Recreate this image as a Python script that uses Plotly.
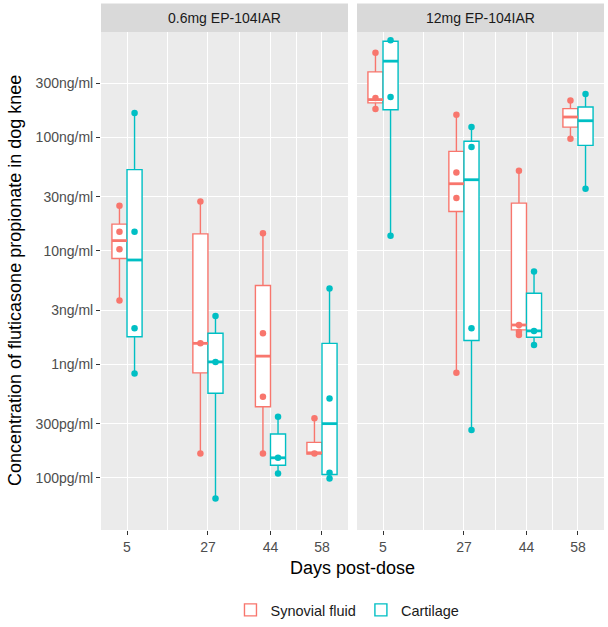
import plotly.graph_objects as go

# ---------------- data (ng/ml) ----------------
days = [5, 27, 44, 58]
day_labels = ["5", "27", "44", "58"]
panel_titles = ["0.6mg EP-104IAR", "12mg EP-104IAR"]
tissues = ["Synovial fluid", "Cartilage"]

# 0.6 mg, synovial fluid
syn06_lo = [3.65, 0.164, 0.164, 0.162]
syn06_q1 = [8.55, 0.84, 0.423, 0.162]
syn06_med = [12.3, 1.53, 1.18, 0.166]
syn06_q3 = [17.2, 14.1, 4.94, 0.205]
syn06_hi = [25.0, 27.2, 14.3, 0.334]
syn06_pts = [[25.0, 14.7, 10.3, 3.65], [27.2, 1.53, 0.164], [14.3, 1.88, 0.519, 0.164], [0.334, 0.164]]

# 0.6 mg, cartilage
car06_lo = [0.83, 0.0657, 0.109, 0.0986]
car06_q1 = [1.75, 0.555, 0.129, 0.107]
car06_med = [8.3, 1.05, 0.150, 0.30]
car06_q3 = [51.9, 1.88, 0.243, 1.53]
car06_hi = [164.0, 2.67, 0.345, 4.65]
car06_pts = [[164.0, 14.7, 2.08, 0.83], [2.67, 1.05, 0.0657], [0.345, 0.150, 0.109], [4.65, 0.50, 0.111, 0.0986]]

# 12 mg, synovial fluid
syn12_lo = [178.0, 0.844, 1.81, 97.3]
syn12_q1 = [201.0, 22.2, 2.01, 123.0]
syn12_med = [215.0, 39.0, 2.22, 151.0]
syn12_q3 = [377.0, 75.2, 26.3, 179.0]
syn12_hi = [555.0, 158.0, 50.8, 211.0]
syn12_pts = [[555.0, 222.0, 178.0], [158.0, 49.1, 29.2, 0.844], [50.8, 2.22, 1.94, 1.81], [211.0, 97.3]]

# 12 mg, cartilage
car12_lo = [13.6, 0.264, 1.48, 35.2]
car12_q1 = [175.0, 1.62, 1.73, 85.0]
car12_med = [469.0, 42.3, 1.97, 140.0]
car12_q3 = [703.0, 92.2, 4.23, 185.0]
car12_hi = [717.0, 123.0, 6.57, 241.0]
car12_pts = [[717.0, 227.0, 13.6], [123.0, 82.2, 2.08, 0.264], [6.57, 1.97, 1.48], [241.0, 35.2]]

y_tickvals = [0.1, 0.3, 1, 3, 10, 30, 100, 300]
y_ticktext = ["100pg/ml", "300pg/ml", "1ng/ml", "3ng/ml", "10ng/ml", "30ng/ml", "100ng/ml", "300ng/ml"]

# ---------------- style ----------------
colors = {"Synovial fluid": "#F8766D", "Cartilage": "#00BFC4"}
DODGE = 2.05
BOX_W = 4.1
FONT = "Liberation Sans, Arial, sans-serif"

groups = [
    (0, "Synovial fluid", -1, syn06_lo, syn06_q1, syn06_med, syn06_q3, syn06_hi, syn06_pts),
    (0, "Cartilage", 1, car06_lo, car06_q1, car06_med, car06_q3, car06_hi, car06_pts),
    (1, "Synovial fluid", -1, syn12_lo, syn12_q1, syn12_med, syn12_q3, syn12_hi, syn12_pts),
    (1, "Cartilage", 1, car12_lo, car12_q1, car12_med, car12_q3, car12_hi, car12_pts),
]

fig = go.Figure()
for panel, tissue, sign, lo, q1, med, q3, hi, pts in groups:
    xa = "x" if panel == 0 else "x2"
    ya = "y" if panel == 0 else "y2"
    col = colors[tissue]
    xpos = [d + sign * DODGE for d in days]
    fig.add_trace(go.Box(
        x=xpos, q1=q1, median=med, q3=q3, lowerfence=lo, upperfence=hi,
        width=BOX_W, whiskerwidth=0, fillcolor="white",
        line=dict(color=col, width=1.4),
        name=tissue, legendgroup=tissue, showlegend=(panel == 0),
        xaxis=xa, yaxis=ya, hoverinfo="skip",
    ))
    # thicker median segments
    mx, my = [], []
    for xc, m in zip(xpos, med):
        mx += [xc - BOX_W / 2, xc + BOX_W / 2, None]
        my += [m, m, None]
    fig.add_trace(go.Scatter(x=mx, y=my, mode="lines", line=dict(color=col, width=2.8),
                             showlegend=False, legendgroup=tissue, xaxis=xa, yaxis=ya, hoverinfo="skip"))
    px, py = [], []
    for xc, plist in zip(xpos, pts):
        for v in plist:
            px.append(xc)
            py.append(v)
    fig.add_trace(go.Scatter(x=px, y=py, mode="markers", marker=dict(color=col, size=6.5),
                             showlegend=False, legendgroup=tissue, xaxis=xa, yaxis=ya, hoverinfo="skip"))

L, R, T, B = 101, 4, 32, 97
W, H = 608, 627
pw = W - L - R
ph = H - T - B
gap = 9
d1 = (pw - gap) / 2 / pw
d2 = 1 - d1

xcommon = dict(range=[-2.07, 65.07], tickmode="array", tickvals=days, ticktext=day_labels,
               showgrid=True, gridcolor="white", gridwidth=1.3, zeroline=False, showline=False,
               automargin=False,
               ticks="outside", ticklen=4, tickwidth=1, tickcolor="#333333",
               tickfont=dict(size=14, color="#4D4D4D", family=FONT),
               minor=dict(tickmode="array", tickvals=[16, 35.5, 51], showgrid=True,
                          gridcolor="white", gridwidth=0.6, ticks=""))
ycommon = dict(type="log", range=[-1.460, 2.928], tickmode="array", tickvals=y_tickvals,
               showgrid=True, gridcolor="white", gridwidth=1.3, zeroline=False, showline=False,
               automargin=False)

fig.update_layout(
    width=W, height=H, margin=dict(l=L, r=R, t=T, b=B, autoexpand=False),
    paper_bgcolor="white", plot_bgcolor="#EBEBEB",
    font=dict(family=FONT, color="#1A1A1A"),
    boxmode="overlay",
    xaxis=dict(domain=[0, d1], anchor="y", **xcommon),
    xaxis2=dict(domain=[d2, 1], anchor="y2", **xcommon),
    yaxis=dict(anchor="x", ticktext=y_ticktext, ticks="outside", ticklen=4, tickwidth=1,
               tickcolor="#333333", tickfont=dict(size=14, color="#4D4D4D", family=FONT), **ycommon),
    yaxis2=dict(anchor="x2", matches="y", showticklabels=False, ticks="", **ycommon),
    legend=dict(orientation="h", x=0.49, xanchor="center", y=-(610 - (H - B)) / ph, yanchor="middle",
                font=dict(size=14.5, color="#1A1A1A", family=FONT), itemwidth=30, bgcolor="rgba(0,0,0,0)"),
    showlegend=True,
)

strip_h = 28.5 / ph
for (x0, x1), title in zip([(0, d1), (d2, 1)], panel_titles):
    fig.add_shape(type="rect", xref="paper", yref="paper", x0=x0, x1=x1, y0=1, y1=1 + strip_h,
                  fillcolor="#D9D9D9", line=dict(width=0), layer="below")
    fig.add_annotation(xref="paper", yref="paper", x=(x0 + x1) / 2, y=1 + strip_h / 2,
                       text=title, showarrow=False, xanchor="center", yanchor="middle",
                       font=dict(size=14, color="#1A1A1A", family=FONT))

fig.add_annotation(xref="paper", yref="paper", x=0.5, y=-(568 - (H - B)) / ph,
                   text="Days post-dose", showarrow=False, xanchor="center", yanchor="middle",
                   font=dict(size=18, color="black", family=FONT))
fig.add_annotation(xref="paper", yref="paper", x=-(L - 15) / pw, y=0.5,
                   text="Concentration of fluticasone propionate in dog knee", textangle=-90,
                   showarrow=False, xanchor="center", yanchor="middle",
                   font=dict(size=18, color="black", family=FONT))

fig.write_html("out.html", config={"displayModeBar": False},
               post_script="document.body.style.margin='0';")
